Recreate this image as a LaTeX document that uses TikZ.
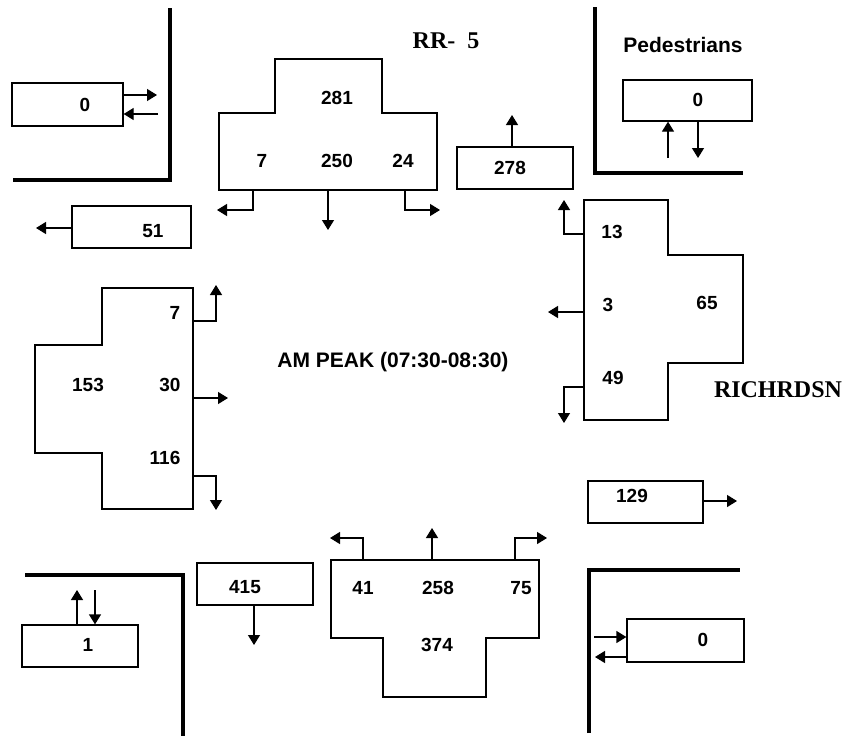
\documentclass[tikz,border=0pt]{standalone}
\usepackage{fontspec}
\setmainfont{Liberation Serif}
\setsansfont{Liberation Sans}
\usetikzlibrary{arrows.meta}

\begin{document}
\begin{tikzpicture}[x=1pt,y=-1pt,
  wall/.style={line width=3.8pt},
  lane/.style={line width=1.3pt},
  mv/.style={line width=1.3pt,-{Triangle[length=10pt,width=12pt]}},
  cnt/.style={font=\sffamily\bfseries\fontsize{19}{19}\selectfont,inner sep=0pt},
  ttl/.style={font=\sffamily\bfseries\fontsize{21}{21}\selectfont,inner sep=0pt},
  road/.style={font=\bfseries\fontsize{24}{24}\selectfont,inner sep=0pt},
  cbox/.style={draw,line width=1.3pt,inner sep=0pt}]

\useasboundingbox (0,0) rectangle (846,736);

\node[road] (rr5) at (446,41) {RR-~~5};
\node[road] (richrdsn) at (778,390) {RICHRDSN};
\node[ttl] (peds) at (683,45) {Pedestrians};
\node[ttl] (period) at (393,362) {AM PEAK (07:30-08:30)};

% corners
\draw[wall] (13,180) -- (170,180) -- (170,8);
\draw[wall] (595,7) -- (595,173) -- (743,173);
\draw[wall] (25,575) -- (183,575) -- (183,736);
\draw[wall] (589,733) -- (589,570) -- (740,570);

% pedestrians
\node[cbox,minimum width=111pt,minimum height=43pt] (nw-box) at (67.5,104.5) {};
\node[cnt] (nw-val) at (85,105) {0};
\coordinate (nw-o) at (157,95);
\coordinate (nw-i) at (158,114);
\draw[mv] (nw-box.east |- nw-o) -- (nw-o);
\draw[mv] (nw-i) -- (nw-box.east |- nw-i);

\node[cbox,minimum width=129pt,minimum height=41pt] (ne-box) at (687.5,100.5) {};
\node[cnt] (ne-val) at (698,100) {0};
\coordinate (ne-i) at (668,158);
\coordinate (ne-o) at (698,158);
\draw[mv] (ne-i) -- (ne-box.south -| ne-i);
\draw[mv] (ne-box.south -| ne-o) -- (ne-o);

\node[cbox,minimum width=116pt,minimum height=42pt] (sw-box) at (80,646) {};
\node[cnt] (sw-val) at (88,645) {1};
\coordinate (sw-o) at (77,590);
\coordinate (sw-i) at (95,590);
\draw[mv] (sw-box.north -| sw-o) -- (sw-o);
\draw[mv] (sw-i) -- (sw-box.north -| sw-i);

\node[cbox,minimum width=117pt,minimum height=43pt] (se-box) at (685.5,640.5) {};
\node[cnt] (se-val) at (703,640) {0};
\coordinate (se-i) at (594,637);
\coordinate (se-o) at (595,657);
\draw[mv] (se-i) -- (se-box.west |- se-i);
\draw[mv] (se-box.west |- se-o) -- (se-o);

% exits
\node[cbox,minimum width=116pt,minimum height=42pt] (n-exit) at (515,168) {};
\node[cnt] (n-exit-val) at (510,168) {278};
\coordinate (n-exit-end) at (512,115);
\draw[mv] (n-exit.north -| n-exit-end) -- (n-exit-end);

\node[cbox,minimum width=119pt,minimum height=42pt] (w-exit) at (131.5,227) {};
\node[cnt] (w-exit-val) at (153,231) {51};
\coordinate (w-exit-end) at (36,228);
\draw[mv] (w-exit.west |- w-exit-end) -- (w-exit-end);

\node[cbox,minimum width=116pt,minimum height=42pt] (s-exit) at (255,584) {};
\node[cnt] (s-exit-val) at (245,587) {415};
\coordinate (s-exit-end) at (254,645);
\draw[mv] (s-exit.south -| s-exit-end) -- (s-exit-end);

\node[cbox,minimum width=115pt,minimum height=42pt] (e-exit) at (645.5,502) {};
\node[cnt] (e-exit-val) at (632,496) {129};
\coordinate (e-exit-end) at (737,501);
\draw[mv] (e-exit.east |- e-exit-end) -- (e-exit-end);

% north approach
\draw[lane] (275,59) -- (382,59) -- (382,113) -- (437,113) -- (437,190)
  -- (219,190) -- (219,113) -- (275,113) -- cycle;
\node[cnt] (n-tot) at (337,98) {281};
\node[cnt] (n-lt) at (262,161) {7};
\node[cnt] (n-th) at (337,161) {250};
\node[cnt] (n-rt) at (403,161) {24};
\coordinate (n-lt-a) at (253,190); \coordinate (n-lt-b) at (217,210);
\coordinate (n-th-a) at (328,190); \coordinate (n-th-b) at (328,230);
\coordinate (n-rt-a) at (405,190); \coordinate (n-rt-b) at (440,210);
\draw[mv] (n-lt-a) |- (n-lt-b);
\draw[mv] (n-th-a) -- (n-th-b);
\draw[mv] (n-rt-a) |- (n-rt-b);

% west approach
\draw[lane] (102,288) -- (193,288) -- (193,509) -- (102,509) -- (102,453)
  -- (35,453) -- (35,345) -- (102,345) -- cycle;
\node[cnt] (w-rt) at (175,313) {7};
\node[cnt] (w-tot) at (88,385) {153};
\node[cnt] (w-th) at (170,385) {30};
\node[cnt] (w-lt) at (165,458) {116};
\coordinate (w-rt-a) at (193,321); \coordinate (w-rt-b) at (216,285);
\coordinate (w-th-a) at (193,398); \coordinate (w-th-b) at (228,398);
\coordinate (w-lt-a) at (193,476); \coordinate (w-lt-b) at (216,510);
\draw[mv] (w-rt-a) -| (w-rt-b);
\draw[mv] (w-th-a) -- (w-th-b);
\draw[mv] (w-lt-a) -| (w-lt-b);

% east approach
\draw[lane] (584,200) -- (668,200) -- (668,255) -- (743,255) -- (743,363)
  -- (668,363) -- (668,420) -- (584,420) -- cycle;
\node[cnt] (e-lt) at (612,232) {13};
\node[cnt] (e-th) at (608,305) {3};
\node[cnt] (e-tot) at (707,303) {65};
\node[cnt] (e-rt) at (613,378) {49};
\coordinate (e-lt-a) at (584,234); \coordinate (e-lt-b) at (564,200);
\coordinate (e-th-a) at (584,312); \coordinate (e-th-b) at (548,312);
\coordinate (e-rt-a) at (584,387); \coordinate (e-rt-b) at (564,423);
\draw[mv] (e-lt-a) -| (e-lt-b);
\draw[mv] (e-th-a) -- (e-th-b);
\draw[mv] (e-rt-a) -| (e-rt-b);

% south approach
\draw[lane] (331,560) -- (539,560) -- (539,638) -- (486,638) -- (486,697)
  -- (383,697) -- (383,638) -- (331,638) -- cycle;
\node[cnt] (s-lt) at (363,588) {41};
\node[cnt] (s-th) at (438,588) {258};
\node[cnt] (s-rt) at (521,588) {75};
\node[cnt] (s-tot) at (437,645) {374};
\coordinate (s-lt-a) at (363,560); \coordinate (s-lt-b) at (330,538);
\coordinate (s-th-a) at (432,560); \coordinate (s-th-b) at (432,528);
\coordinate (s-rt-a) at (515,560); \coordinate (s-rt-b) at (547,538);
\draw[mv] (s-lt-a) |- (s-lt-b);
\draw[mv] (s-th-a) -- (s-th-b);
\draw[mv] (s-rt-a) |- (s-rt-b);

\end{tikzpicture}
\end{document}
